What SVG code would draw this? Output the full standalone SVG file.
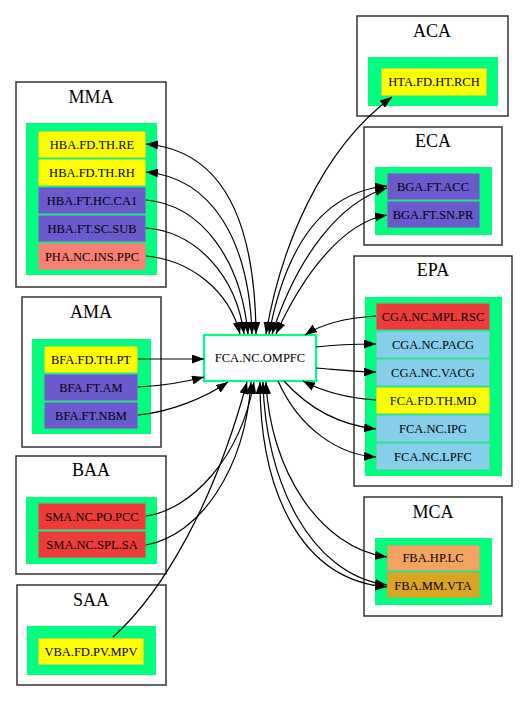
<svg xmlns="http://www.w3.org/2000/svg" width="528" height="701" viewBox="0 0 528 701">
<defs>
<style>
.cl{fill:#fff;stroke:#333;stroke-width:1.5}
.pad{fill:#00FF7F}
.n{stroke:#33E08A;stroke-width:1}
.t{font-family:"Liberation Serif","Times New Roman",serif;font-size:12.5px;text-anchor:middle;fill:#000}
.h{font-family:"Liberation Serif","Times New Roman",serif;font-size:18px;text-anchor:middle;fill:#000}
.y{fill:#FFFF00}.b{fill:#6A5ACD}.s{fill:#FA8072}.r{fill:#EE3B3B}.k{fill:#87CEEB}.o{fill:#F4A460}.g{fill:#DAA520}
.e{fill:none;stroke:#000;stroke-width:1.2}
.e1{marker-end:url(#ah)}
.e2{marker-start:url(#ah);marker-end:url(#ah)}
</style>
<marker id="ah" viewBox="0 0 12 9" refX="12" refY="4.5" markerWidth="12" markerHeight="9" markerUnits="userSpaceOnUse" orient="auto-start-reverse">
<polygon points="0,0 12,4.5 0,9" fill="#000"/>
</marker>
</defs>
<rect width="528" height="701" fill="#fff"/>

<g id="MMA">
<rect class="cl" x="16" y="82" width="150" height="205"/>
<text class="h" x="91" y="103">MMA</text>
<rect class="pad" x="26" y="123" width="131" height="152"/>
<g id="HBA.FD.TH.RE"><rect class="n y" x="38" y="131" width="108" height="27"/><text class="t" x="92" y="149">HBA.FD.TH.RE</text></g>
<g id="HBA.FD.TH.RH"><rect class="n y" x="38" y="159" width="108" height="27"/><text class="t" x="92" y="177">HBA.FD.TH.RH</text></g>
<g id="HBA.FT.HC.CA1"><rect class="n b" x="38" y="187" width="108" height="27"/><text class="t" x="92" y="205">HBA.FT.HC.CA1</text></g>
<g id="HBA.FT.SC.SUB"><rect class="n b" x="38" y="215" width="108" height="27"/><text class="t" x="92" y="233">HBA.FT.SC.SUB</text></g>
<g id="PHA.NC.INS.PPC"><rect class="n s" x="38" y="243" width="108" height="27"/><text class="t" x="92" y="261">PHA.NC.INS.PPC</text></g>
</g>

<g id="AMA">
<rect class="cl" x="22" y="297" width="139" height="150"/>
<text class="h" x="91" y="318">AMA</text>
<rect class="pad" x="32" y="339" width="119" height="95"/>
<g id="BFA.FD.TH.PT"><rect class="n y" x="44" y="346" width="94" height="27"/><text class="t" x="91" y="364">BFA.FD.TH.PT</text></g>
<g id="BFA.FT.AM"><rect class="n b" x="44" y="374" width="94" height="27"/><text class="t" x="91" y="392">BFA.FT.AM</text></g>
<g id="BFA.FT.NBM"><rect class="n b" x="44" y="402" width="94" height="27"/><text class="t" x="91" y="420">BFA.FT.NBM</text></g>
</g>

<g id="BAA">
<rect class="cl" x="16" y="456" width="150" height="118"/>
<text class="h" x="91" y="476">BAA</text>
<rect class="pad" x="26" y="497" width="131" height="67"/>
<g id="SMA.NC.PO.PCC"><rect class="n r" x="38" y="503" width="108" height="27"/><text class="t" x="92" y="521">SMA.NC.PO.PCC</text></g>
<g id="SMA.NC.SPL.SA"><rect class="n r" x="38" y="531" width="108" height="27"/><text class="t" x="92" y="549">SMA.NC.SPL.SA</text></g>
</g>

<g id="SAA">
<rect class="cl" x="17" y="585" width="149" height="100"/>
<text class="h" x="91" y="606">SAA</text>
<rect class="pad" x="27" y="626" width="129" height="49"/>
<g id="VBA.FD.PV.MPV"><rect class="n y" x="38" y="638" width="106" height="27"/><text class="t" x="91" y="656">VBA.FD.PV.MPV</text></g>
</g>

<g id="ACA">
<rect class="cl" x="357" y="16" width="151" height="100"/>
<text class="h" x="432" y="37">ACA</text>
<rect class="pad" x="368" y="57" width="130" height="49"/>
<g id="HTA.FD.HT.RCH"><rect class="n y" x="381" y="68" width="106" height="28"/><text class="t" x="434" y="86">HTA.FD.HT.RCH</text></g>
</g>

<g id="ECA">
<rect class="cl" x="364" y="127" width="138" height="118"/>
<text class="h" x="433" y="147">ECA</text>
<rect class="pad" x="375" y="167" width="117" height="68"/>
<g id="BGA.FT.ACC"><rect class="n b" x="387" y="173" width="93" height="27"/><text class="t" x="433" y="191">BGA.FT.ACC</text></g>
<g id="BGA.FT.SN.PR"><rect class="n b" x="387" y="201" width="93" height="27"/><text class="t" x="433" y="219">BGA.FT.SN.PR</text></g>
</g>

<g id="EPA">
<rect class="cl" x="354" y="256" width="158" height="230"/>
<text class="h" x="433" y="276">EPA</text>
<rect class="pad" x="365" y="297" width="137" height="179"/>
<g id="CGA.NC.MPL.RSC"><rect class="n r" x="376" y="303" width="114" height="27"/><text class="t" x="433" y="321">CGA.NC.MPL.RSC</text></g>
<g id="CGA.NC.PACG"><rect class="n k" x="376" y="331" width="114" height="27"/><text class="t" x="433" y="349">CGA.NC.PACG</text></g>
<g id="CGA.NC.VACG"><rect class="n k" x="376" y="359" width="114" height="27"/><text class="t" x="433" y="377">CGA.NC.VACG</text></g>
<g id="FCA.FD.TH.MD"><rect class="n y" x="376" y="387" width="114" height="27"/><text class="t" x="433" y="405">FCA.FD.TH.MD</text></g>
<g id="FCA.NC.IPG"><rect class="n k" x="376" y="415" width="114" height="27"/><text class="t" x="433" y="433">FCA.NC.IPG</text></g>
<g id="FCA.NC.LPFC"><rect class="n k" x="376" y="443" width="114" height="27"/><text class="t" x="433" y="461">FCA.NC.LPFC</text></g>
</g>

<g id="MCA">
<rect class="cl" x="364" y="497" width="138" height="119"/>
<text class="h" x="433" y="518">MCA</text>
<rect class="pad" x="375" y="538" width="117" height="67"/>
<g id="FBA.HP.LC"><rect class="n o" x="387" y="545" width="93" height="26"/><text class="t" x="433" y="562">FBA.HP.LC</text></g>
<g id="FBA.MM.VTA"><rect class="n g" x="387" y="572" width="93" height="26"/><text class="t" x="433" y="590">FBA.MM.VTA</text></g>
</g>

<g id="FCA.NC.OMPFC">
<rect x="204" y="335" width="112" height="46" fill="#fff" stroke="#00FF7F" stroke-width="2.2"/>
<text class="t" x="260" y="362">FCA.NC.OMPFC</text>
</g>

<g id="connectors">
<path class="e e2" d="M146,144 C220,150 255,215 256,334"/>
<path class="e e2" d="M146,172 C212,178 249,240 252,334"/>
<path class="e e1" d="M146,200 C202,205 241,260 248,334"/>
<path class="e e1" d="M146,228 C196,232 236,275 244,334"/>
<path class="e e1" d="M146,256 C190,260 229,290 240,334"/>
<path class="e e1" d="M138,359 L204,359"/>
<path class="e e1" d="M138,387 C165,386 185,382 204,377"/>
<path class="e e1" d="M138,415 C170,412 205,398 228,382"/>
<path class="e e1" d="M146,516 C190,510 240,460 254,382"/>
<path class="e e1" d="M146,545 C200,535 245,470 251,382"/>
<path class="e e1" d="M113,637 C165,590 215,500 247,382"/>
<path class="e e2" d="M266,334 C280,250 320,150 392,97"/>
<path class="e e2" d="M269,334 C285,250 320,192 387,186"/>
<path class="e e2" d="M272,334 C298,255 340,202 387,188"/>
<path class="e e2" d="M276,334 C305,270 345,222 387,215"/>
<path class="e e1" d="M376,316 C345,318 320,325 305,335"/>
<path class="e e1" d="M316,347 C340,344 355,344 376,344"/>
<path class="e e1" d="M316,368 C340,370 355,372 376,372"/>
<path class="e e1" d="M376,400 C345,398 320,390 303,381"/>
<path class="e e1" d="M284,381 C310,410 340,425 376,429"/>
<path class="e e1" d="M278,381 C300,430 340,455 376,457"/>
<path class="e e2" d="M266,382 C270,470 320,548 387,557"/>
<path class="e e2" d="M263,382 C265,480 310,575 387,585"/>
<path class="e e2" d="M260,382 C260,490 300,580 387,587"/>
</g>
</svg>
